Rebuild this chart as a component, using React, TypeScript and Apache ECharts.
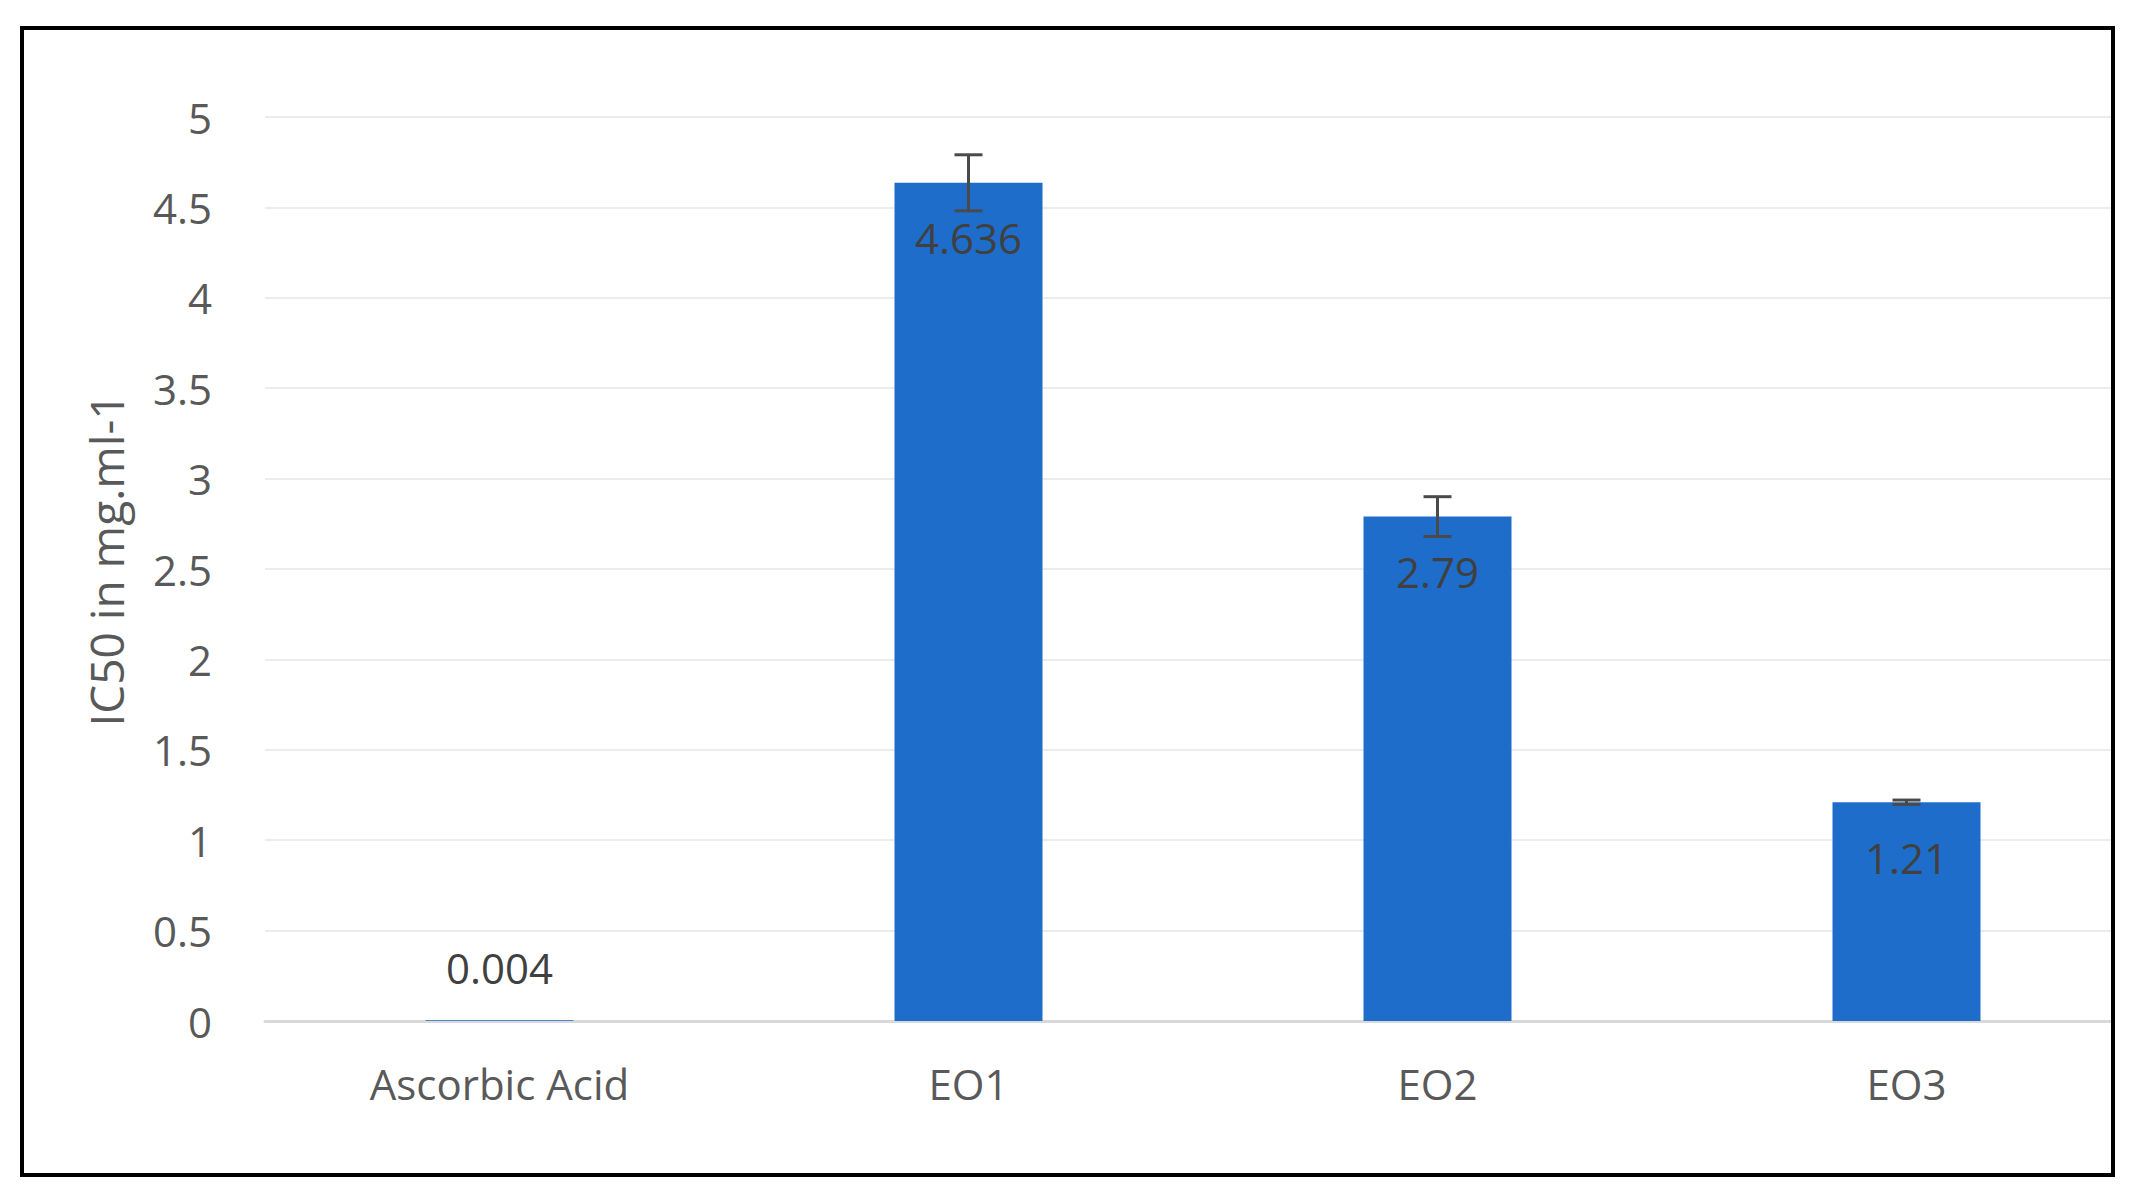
import React, { useEffect, useRef } from "react";
import * as echarts from "echarts";

const categories = ["Ascorbic Acid", "EO1", "EO2", "EO3"];
const values = [0.004, 4.636, 2.79, 1.21];
const errors = [0, 0.155, 0.11, 0.012];
const yMin = 0;
const yMax = 5;
const yInterval = 0.5;
const yAxisTitle = "IC50 in mg.ml-1";

const FONT = "Open Sans";

export default function App() {
  const ref = useRef<HTMLDivElement>(null);

  useEffect(() => {
    if (!ref.current) return;
    const chart = echarts.init(ref.current, undefined, { renderer: "svg" });

    const barData = values.map((v, i) => ({
      value: v,
      label:
        i === 0
          ? { show: true, position: "top", distance: 32 }
          : { show: true, position: "insideTop", distance: 34 },
    }));

    const errData = values
      .map((v, i) => [i, v - errors[i], v + errors[i]])
      .filter((_, i) => errors[i] > 0);

    const option = {
      animation: false,
      backgroundColor: "#ffffff",
      grid: { left: 265, top: 117, width: 1876, height: 904, containLabel: false },
      xAxis: {
        type: "category",
        data: categories,
        axisLine: { show: true, lineStyle: { color: "#d9d9d9", width: 3 } },
        axisTick: { show: false },
        axisLabel: {
          color: "#595959",
          fontFamily: FONT,
          fontSize: 42,
          margin: 41,
        },
        splitLine: { show: false },
      },
      yAxis: {
        type: "value",
        min: yMin,
        max: yMax,
        interval: yInterval,
        name: yAxisTitle,
        nameLocation: "middle",
        nameRotate: 90,
        nameGap: 136,
        nameTextStyle: {
          color: "#595959",
          fontFamily: FONT,
          fontSize: 46,
          padding: [0, 0, 0, 18],
        },
        axisLine: { show: false },
        axisTick: { show: false },
        axisLabel: {
          color: "#595959",
          fontFamily: FONT,
          fontSize: 42,
          margin: 53,
        },
        splitLine: { show: true, lineStyle: { color: "#ececec", width: 2 } },
      },
      series: [
        {
          type: "bar",
          data: barData,
          barWidth: 148,
          itemStyle: { color: "#1f6dca" },
          label: {
            color: "#404040",
            fontFamily: FONT,
            fontSize: 42,
            lineHeight: 42,
          },
          z: 2,
        },
        {
          type: "custom",
          data: errData,
          encode: { x: 0, y: [1, 2] },
          z: 5,
          renderItem: (params: any, api: any) => {
            const x = api.value(0);
            const lo = api.coord([x, api.value(1)]);
            const hi = api.coord([x, api.value(2)]);
            const half = 14;
            const style = { stroke: "#4a4a4a", lineWidth: 3 };
            return {
              type: "group",
              children: [
                { type: "line", shape: { x1: lo[0], y1: lo[1], x2: hi[0], y2: hi[1] }, style },
                { type: "line", shape: { x1: hi[0] - half, y1: hi[1], x2: hi[0] + half, y2: hi[1] }, style },
                { type: "line", shape: { x1: lo[0] - half, y1: lo[1], x2: lo[0] + half, y2: lo[1] }, style },
              ],
            };
          },
        },
      ],
      graphic: [
        {
          type: "rect",
          z: 100,
          shape: { x: 2113, y: 0, width: 40, height: 1200 },
          style: { fill: "#ffffff" },
        },
        {
          type: "rect",
          z: 101,
          shape: { x: 22, y: 28, width: 2091, height: 1147 },
          style: { fill: "none", stroke: "#000000", lineWidth: 4 },
        },
      ],
    };

    chart.setOption(option as any);
    return () => chart.dispose();
  }, []);

  return (
    <div
      ref={ref}
      style={{ position: "absolute", left: 0, top: 0, width: 2142, height: 1200, background: "#fff" }}
    />
  );
}
